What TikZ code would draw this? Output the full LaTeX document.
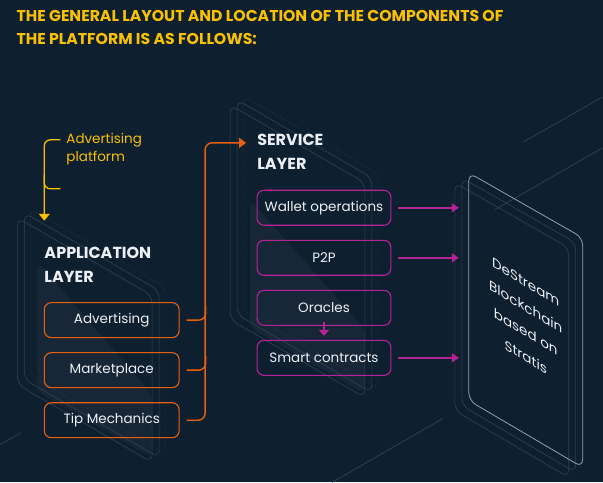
\documentclass[tikz,border=0pt]{standalone}
\usepackage{fontspec}
\setmainfont{Poppins}
\usetikzlibrary{arrows.meta, positioning, calc}
\definecolor{NightBlue}{RGB}{14,31,48}
\definecolor{TitleGold}{RGB}{250,193,0}
\definecolor{EdgeOrange}{RGB}{232,96,12}
\definecolor{ServMagenta}{RGB}{180,36,148}
\definecolor{PanelGrey}{RGB}{50,66,82}
\definecolor{ChainGrey}{RGB}{150,160,172}
\definecolor{SoftWhite}{RGB}{236,240,244}

\begin{document}
\begin{tikzpicture}[x=1pt, y=-1pt,
                    node distance=14pt,
                    appbox/.style={rectangle, rounded corners=7pt, draw=EdgeOrange, line width=1.1pt, minimum width=135pt, minimum height=35pt, text=SoftWhite, font=\fontsize{13.5}{16}\selectfont},
                    svcbox/.style={appbox, draw=ServMagenta, minimum width=134pt},
                    heading/.style={align=left, text=SoftWhite, font=\fontsize{16}{24}\selectfont\bfseries, anchor=north west, inner sep=0pt},
                    panel/.style={draw=PanelGrey, line width=0.6pt, rounded corners=8pt},
                    dotpanel/.style={panel, dash pattern=on 0.8pt off 2.4pt},
                    gridline/.style={draw=PanelGrey, line width=0.7pt},
                    appline/.style={draw=EdgeOrange, line width=1.4pt, rounded corners=7pt},
                    svcline/.style={draw=ServMagenta, line width=1.5pt, -{Triangle[length=7pt, width=9pt]}},
                    goldline/.style={draw=TitleGold, line width=1.3pt, rounded corners=6pt}
                ]
    \fill[NightBlue] (0,0) rectangle (603,483);

    % faint backdrop lines
    \draw[gridline] (524,142) -- (603,97);
    \draw[gridline] (495,210) -- (603,148);
    \draw[gridline] (332,483) -- (443,419);
    \draw[gridline] (0,445) -- (21,433);

    % title
    \node[anchor=north west, inner sep=0pt, align=left, text=TitleGold, font=\fontsize{15.7}{23}\selectfont\bfseries] (title) at (16,10) {THE GENERAL LAYOUT AND LOCATION OF THE COMPONENTS OF\\THE PLATFORM IS AS FOLLOWS:};

    % application layer panel
    \fill[white, opacity=0.04, rounded corners=8pt] (37,262) -- (152,395) -- (152,458) -- (37,392) -- cycle;
    \draw[panel] (17,218) -- (152,296) -- (152,463) -- (17,385) -- cycle;
    \draw[panel, shift={(7,-5)}] (17,218) -- (152,296) -- (152,463) -- (17,385) -- cycle;
    \draw[dotpanel, shift={(13,-9)}] (17,218) -- (152,296) -- (152,463) -- (17,385) -- cycle;

    % service layer panel
    \fill[white, opacity=0.04, rounded corners=8pt] (250,200) -- (365,330) -- (365,394) -- (250,328) -- cycle;
    \draw[panel] (230,105) -- (365,183) -- (365,398) -- (230,320) -- cycle;
    \draw[panel, shift={(7,-5)}] (230,105) -- (365,183) -- (365,398) -- (230,320) -- cycle;
    \draw[dotpanel, shift={(13,-9)}] (230,105) -- (365,183) -- (365,398) -- (230,320) -- cycle;

    % blockchain panel
    \draw[panel, shift={(-14,10)}] (469,173) -- (583,238) -- (583,468) -- (469,401) -- cycle;
    \draw[panel, shift={(-7,5)}] (469,173) -- (583,238) -- (583,468) -- (469,401) -- cycle;
    \draw[panel, draw=ChainGrey, line width=0.8pt] (469,173) -- (583,238) -- (583,468) -- (469,401) -- cycle;
    \node[align=center, yslant=-0.6, text=SoftWhite, font=\fontsize{13.5}{25}\selectfont] (chain) at (526,320) {DeStream\\Blockchain\\based on\\Stratis};
    \coordinate (chainedge) at (459,0);

    % headings
    \node[heading] (apphead) at (44,247) {APPLICATION\\LAYER};
    \node[heading] (svchead) at (257,134) {SERVICE\\LAYER};

    % advertising platform note
    \node[anchor=north west, inner sep=0pt, align=left, text=TitleGold, font=\fontsize{13.5}{18}\selectfont] (adplat) at (66,133) {Advertising\\platform};
    \coordinate (brtop) at (60,140);
    \coordinate (brmid) at (60,189);
    \coordinate (appin) at (44,221);
    \draw[goldline, -{Triangle[length=7pt, width=11pt]}] (brtop) -| (appin);
    \draw[goldline] (brmid) -| ++(-16,-14);

    % application boxes
    \node[appbox] (adv) at (111.5,320.5) {Advertising};
    \node[appbox, below=of adv] (market) {Marketplace};
    \node[appbox, below=of market] (tip) {Tip Mechanics};

    % service boxes
    \node[svcbox] (wallet) at (324,208) {Wallet operations};
    \node[svcbox, below=of wallet] (ptp) {P2P};
    \node[svcbox, below=of ptp] (oracles) {Oracles};
    \node[svcbox, below=of oracles] (smart) {Smart contracts};

    % application -> service
    \coordinate (trunk) at (205,143);
    \coordinate (svcin) at (246,143);
    \draw[appline, -{Triangle[length=7pt, width=10pt]}] ([xshift=7pt]tip.east) -| (trunk) -- (svcin);
    \draw[appline] ([xshift=7pt]adv.east) -| ++(19,-14);
    \draw[appline] ([xshift=7pt]market.east) -| ++(19,-14);

    % service -> blockchain
    \draw[svcline] ([xshift=7pt]wallet.east) -- (wallet.east -| chainedge);
    \draw[svcline] ([xshift=7pt]ptp.east) -- (ptp.east -| chainedge);
    \draw[svcline] ([xshift=7pt]smart.east) -- (smart.east -| chainedge);
    \draw[draw=ServMagenta, line width=1.3pt, -{Triangle[length=6pt, width=10pt]}] ([yshift=4pt]oracles.south) -- ([yshift=4pt]smart.north);
\end{tikzpicture}
\end{document}
